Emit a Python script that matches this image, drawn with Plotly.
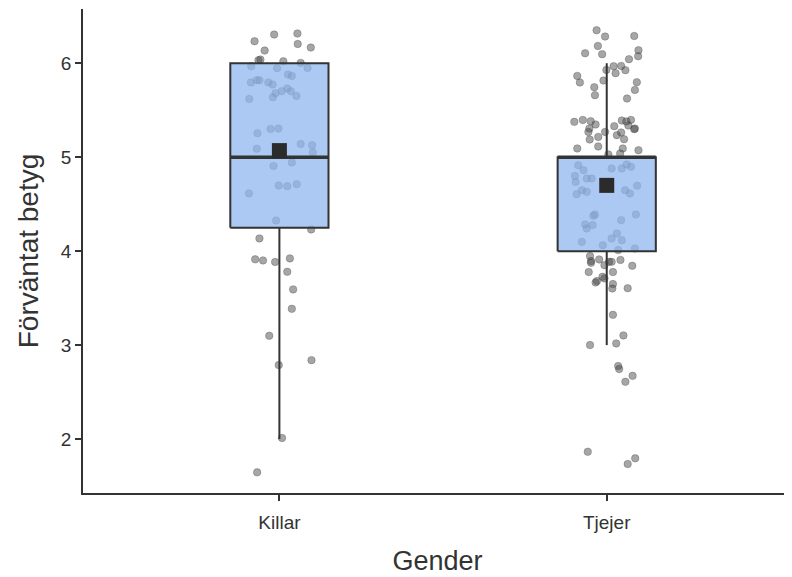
import plotly.graph_objects as go

# ---------------- data ----------------
categories = ["Killar", "Tjejer"]
q1 = [4.25, 4.0]
median = [5.0, 5.0]
q3 = [6.0, 5.0]
whisker_low = [2.0, 3.0]
whisker_high = [6.0, 6.0]
means = [5.07, 4.70]

killar_jitter = [-0.076, -0.016, 0.055, 0.056, 0.096, -0.045, -0.064, -0.058, 0.012, 0.065,
                 -0.086, -0.007, 0.086, 0.026, 0.038, -0.087, -0.069, -0.061, -0.034, -0.021,
                 0.024, 0.035, 0.007, -0.012, -0.020, 0.052, -0.092, -0.067, -0.027, -0.003,
                 0.065, 0.100, -0.069, 0.102, -0.018, 0.038, -0.002, 0.024, 0.053, -0.093,
                 -0.010, 0.097, -0.061, -0.074, -0.050, -0.013, 0.032, 0.024, 0.042, 0.038,
                 -0.031, -0.002, 0.098, 0.008, -0.068]
killar_y = [6.234, 6.305, 6.316, 6.205, 6.167, 6.135, 6.032, 6.039, 6.021, 6.003,
            5.968, 5.947, 5.950, 5.880, 5.865, 5.795, 5.819, 5.819, 5.795, 5.773,
            5.731, 5.702, 5.702, 5.681, 5.638, 5.652, 5.620, 5.255, 5.301, 5.305,
            5.141, 5.128, 5.090, 5.050, 4.907, 4.944, 4.699, 4.691, 4.713, 4.614,
            4.327, 4.231, 4.135, 3.913, 3.901, 3.885, 3.923, 3.780, 3.593, 3.386,
            3.099, 2.787, 2.840, 2.012, 1.646]

tjejer_jitter = [-0.031, -0.005, 0.084, -0.027, -0.066, -0.014, 0.097, 0.068, 0.096, 0.021,
                 0.044, -0.001, 0.027, 0.057, -0.090, -0.082, -0.010, 0.092, -0.038, 0.086,
                 -0.036, 0.062, -0.099, -0.073, -0.049, 0.046, 0.074, 0.060, -0.034, 0.023,
                 0.066, 0.086, -0.053, -0.056, -0.052, -0.026, -0.005, 0.031, 0.053, 0.084,
                 0.044, -0.090, -0.026, 0.049, 0.097, 0.005, 0.041, -0.087, -0.071, -0.097,
                 -0.095, -0.061, -0.046, 0.046, 0.061, 0.074, 0.015, -0.092, -0.076, -0.061,
                 0.056, 0.071, 0.093, -0.036, -0.041, 0.089, 0.044, -0.066, -0.061, -0.043,
                 0.031, 0.015, 0.046, -0.076, -0.012, 0.086, 0.035, -0.051, -0.048, -0.048,
                 -0.023, -0.007, 0.007, 0.015, 0.042, 0.078, -0.055, 0.019, -0.013, -0.007,
                 -0.034, -0.030, 0.019, 0.017, 0.064, 0.019, 0.051, -0.051, 0.029, 0.035,
                 0.038, 0.079, 0.057, -0.058, 0.087, 0.064]
tjejer_y = [6.351, 6.284, 6.290, 6.184, 6.106, 6.096, 6.138, 6.043, 6.074, 5.968,
            5.971, 5.929, 5.894, 5.926, 5.865, 5.795, 5.816, 5.798, 5.745, 5.716,
            5.660, 5.624, 5.376, 5.397, 5.383, 5.390, 5.397, 5.380, 5.348, 5.330,
            5.337, 5.305, 5.305, 5.269, 5.188, 5.216, 5.269, 5.234, 5.191, 5.298,
            5.263, 5.093, 5.114, 5.093, 5.074, 5.029, 5.039, 4.915, 4.862, 4.801,
            4.737, 4.773, 4.773, 4.880, 4.922, 4.897, 4.880, 4.606, 4.649, 4.631,
            4.649, 4.614, 4.695, 4.390, 4.376, 4.390, 4.330, 4.284, 4.241, 4.277,
            4.188, 4.135, 4.117, 4.099, 4.064, 4.029, 4.011, 3.947, 3.894, 3.876,
            3.912, 3.851, 3.886, 3.886, 3.907, 3.844, 3.777, 3.777, 3.727, 3.710,
            3.667, 3.681, 3.649, 3.603, 3.606, 3.322, 3.103, 3.000, 3.018, 2.777,
            2.745, 2.673, 2.610, 1.865, 1.795, 1.734]

# ---------------- figure ----------------
BOX_HALF = 0.15
DARK = "#333333"
fig = go.Figure()

# jittered points (drawn first, beneath the boxes)
pts_x = [0 + j for j in killar_jitter] + [1 + j for j in tjejer_jitter]
pts_y = killar_y + tjejer_y
fig.add_trace(go.Scatter(
    x=pts_x, y=pts_y, mode="markers",
    marker=dict(size=7.5, color="rgba(70,70,70,0.48)",
                line=dict(width=0.6, color="rgba(60,60,60,0.5)")),
    hoverinfo="skip", showlegend=False))

# whiskers
wx, wy = [], []
for i in range(len(categories)):
    wx += [i, i, None, i, i, None]
    wy += [q3[i], whisker_high[i], None, q1[i], whisker_low[i], None]
fig.add_trace(go.Scatter(x=wx, y=wy, mode="lines",
                         line=dict(color=DARK, width=2),
                         hoverinfo="skip", showlegend=False))

# boxes
bx, by = [], []
for i in range(len(categories)):
    bx += [i - BOX_HALF, i + BOX_HALF, i + BOX_HALF, i - BOX_HALF, i - BOX_HALF, None]
    by += [q1[i], q1[i], q3[i], q3[i], q1[i], None]
fig.add_trace(go.Scatter(x=bx, y=by, mode="lines", fill="toself",
                         fillcolor="rgba(143,183,237,0.75)",
                         line=dict(color=DARK, width=2),
                         hoverinfo="skip", showlegend=False))

# medians
mx, my = [], []
for i in range(len(categories)):
    mx += [i - BOX_HALF, i + BOX_HALF, None]
    my += [median[i], median[i], None]
fig.add_trace(go.Scatter(x=mx, y=my, mode="lines",
                         line=dict(color=DARK, width=3.5),
                         hoverinfo="skip", showlegend=False))

# means
fig.add_trace(go.Scatter(x=list(range(len(categories))), y=means, mode="markers",
                         marker=dict(symbol="square", size=15, color="#2b2b2b"),
                         hoverinfo="skip", showlegend=False))

fig.update_layout(
    width=784, height=569,
    margin=dict(l=75, r=0, t=1, b=84),
    plot_bgcolor="white", paper_bgcolor="white",
    font=dict(family="Liberation Sans, Arial, Helvetica, sans-serif", color=DARK),
    showlegend=False,
)
fig.update_xaxes(
    range=[-0.6, 1.566], tickvals=list(range(len(categories))), ticktext=categories,
    showline=True, linecolor=DARK, linewidth=1.5, mirror=False,
    ticks="outside", ticklen=6, tickwidth=1.5, tickcolor=DARK,
    ticklabelstandoff=5,
    showgrid=False, zeroline=False, automargin=False,
    tickfont=dict(size=19, color=DARK),
    title=dict(text="Gender", font=dict(size=27, color=DARK), standoff=20),
)
fig.update_yaxes(
    range=[1.426, 6.577], tickvals=[2, 3, 4, 5, 6],
    showline=True, linecolor=DARK, linewidth=1.5, mirror=False,
    ticks="outside", ticklen=6, tickwidth=1.5, tickcolor=DARK,
    showgrid=False, zeroline=False, automargin=False,
    tickfont=dict(size=19, color=DARK),
    title=dict(text="Förväntat betyg", font=dict(size=28, color=DARK), standoff=14),
)

fig.write_html("out.html")
